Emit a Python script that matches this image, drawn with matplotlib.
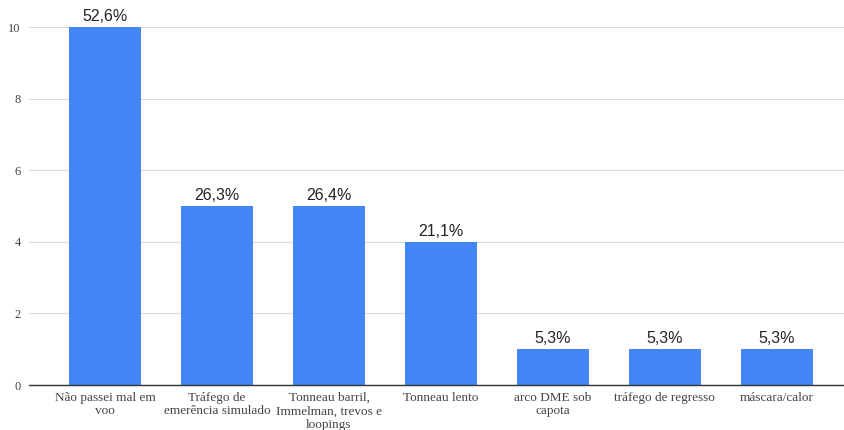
import matplotlib
matplotlib.use("Agg")
import matplotlib.pyplot as plt

categorias = [
    "Não passei mal em\nvoo",
    "Tráfego de\nemerência simulado",
    "Tonneau barril,\nImmelman, trevos e\nloopings",
    "Tonneau lento",
    "arco DME sob\ncapota",
    "tráfego de regresso",
    "máscara/calor",
]
contagens = [10, 5, 5, 4, 1, 1, 1]
rotulos = ["52,6%", "26,3%", "26,4%", "21,1%", "5,3%", "5,3%", "5,3%"]
yticks = [0, 2, 4, 6, 8, 10]

fig = plt.figure(figsize=(8.44, 4.30), dpi=100)
ax = fig.add_axes([29 / 844, 1 - 385 / 430, 1 - 29 / 844, (385 - 27) / 430])

x = list(range(len(categorias)))
barras = ax.bar(x, contagens, width=0.64, color="#4285F4", zorder=3)

for b, txt in zip(barras, rotulos):
    ax.annotate(txt, (b.get_x() + b.get_width() / 2, b.get_height()),
                xytext=(0, 2), textcoords="offset points",
                ha="center", va="bottom", fontsize=11.5,
                family="Liberation Sans", color="#222222")

ax.set_xlim(-0.68, 6.6)
ax.set_ylim(0, 10)
ax.set_yticks(yticks)
ax.set_yticklabels([str(v) for v in yticks], family="Liberation Serif",
                   fontsize=9, color="#444444")
ax.set_xticks(x)
ax.set_xticklabels(categorias, family="Liberation Serif", fontsize=9.5,
                   color="#444444", linespacing=1.15)

ax.yaxis.grid(True, color="#d9d9d9", linewidth=0.8, zorder=0)
ax.tick_params(axis="both", length=0)
ax.tick_params(axis="y", pad=6)
ax.tick_params(axis="x", pad=5)
for s in ["top", "right", "left"]:
    ax.spines[s].set_visible(False)
ax.spines["bottom"].set_color("#333333")
ax.spines["bottom"].set_linewidth(1.0)
ax.spines["bottom"].set_zorder(4)

fig.savefig("out.png", dpi=100)
